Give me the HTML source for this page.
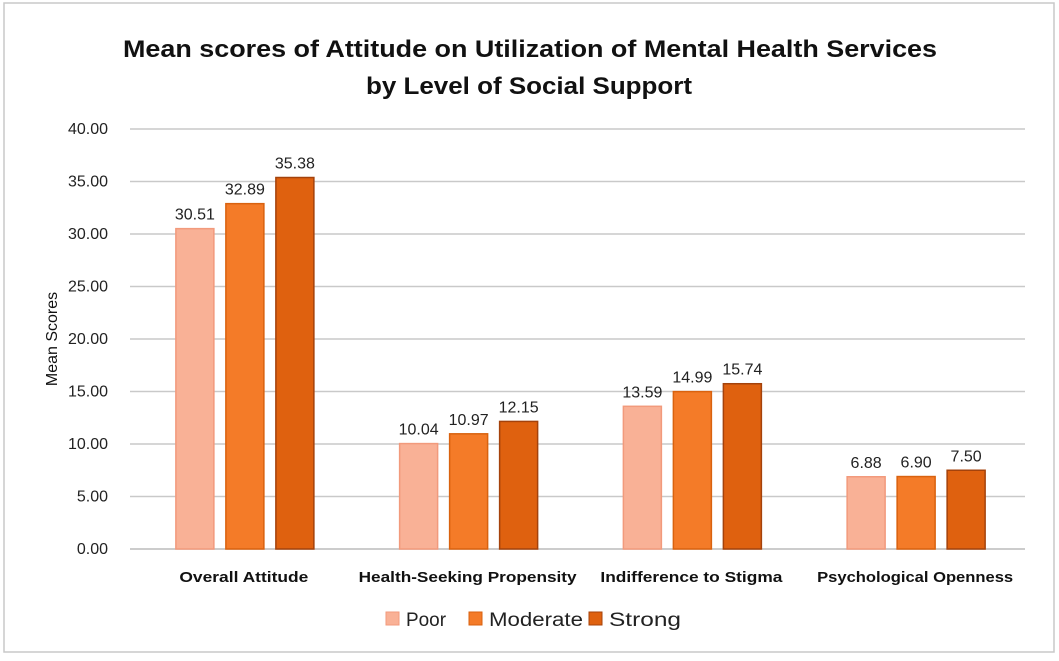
<!DOCTYPE html>
<html><head><meta charset="utf-8"><style>
body{margin:0;background:#fff;font-family:"Liberation Sans",sans-serif}
</style></head><body>
<svg width="1059" height="656" xmlns="http://www.w3.org/2000/svg">
<rect x="4" y="3" width="1050" height="649" fill="#fff" stroke="#c8c8c8" stroke-width="1.5"/>
<text x="530" y="57" text-anchor="middle" font-size="24" font-weight="bold" fill="#111" textLength="814" lengthAdjust="spacingAndGlyphs">Mean scores of Attitude on Utilization of Mental Health Services</text>
<text x="529" y="94" text-anchor="middle" font-size="24" font-weight="bold" fill="#111" textLength="326" lengthAdjust="spacingAndGlyphs">by Level of Social Support</text>
<g id="grid"></g><g id="bars"></g><g id="labels"></g>
<text transform="translate(57,339) rotate(-90)" text-anchor="middle" font-size="16" fill="#111">Mean Scores</text>
<g id="legend"></g>
</svg>
<script>
const categories=["Overall Attitude","Health-Seeking Propensity","Indifference to Stigma","Psychological Openness"];
const seriesNames=["Poor","Moderate","Strong"];
const poor=[30.51,10.04,13.59,6.88];
const moderate=[32.89,10.97,14.99,6.90];
const strong=[35.38,12.15,15.74,7.50];
const yTicks=[0,5,10,15,20,25,30,35,40];
const NS="http://www.w3.org/2000/svg";
const x0=133,x1=1028,y0=549,yTop=129,yMax=40;
const Y=v=>y0-(v/yMax)*(y0-yTop);
const gw=(x1-x0)/categories.length;
const fills=["#f9b196","#f47b28","#df610f"],strokes=["#f29a7c","#d9620f","#a4420b"];
const catLen=[129,218,182,196];
function el(t,a,p){const e=document.createElementNS(NS,t);for(const k in a)e.setAttribute(k,a[k]);document.getElementById(p).appendChild(e);return e;}
yTicks.forEach(t=>{
 const l=el("line",{x1:130,x2:1025,y1:Y(t),y2:Y(t),stroke:t===0?"#bbb":"#c9c9c9","stroke-width":1.5},"grid");
 
 
 const tx=el("text",{x:108,y:Y(t)+5,"text-anchor":"end","font-size":16,fill:"#222"},"grid");
 tx.textContent=t.toFixed(2);
 
 
});
const series=[poor,moderate,strong];
categories.forEach((c,i)=>{
 const cx=x0+gw*(i+0.5);
 series.forEach((s,j)=>{
  const bx=cx-69+j*50;
  const r=el("rect",{x:bx,y:Y(s[i]),width:38,height:y0-Y(s[i]),fill:fills[j],stroke:strokes[j],"stroke-width":1.5},"bars");
  
  
  const t=el("text",{x:bx+19,y:Y(s[i])-9,"text-anchor":"middle","font-size":16,fill:"#222"},"labels");
  t.textContent=s[i].toFixed(2);
  
  
 });
 const ct=el("text",{x:cx-1,y:582,"text-anchor":"middle","font-size":15,"font-weight":"bold",fill:"#111",textLength:catLen[i],lengthAdjust:"spacingAndGlyphs"},"labels");
 ct.textContent=c;
 
 
});
const lx=[386,469,589];
const lLen=[40,94,72];
seriesNames.forEach((n,j)=>{
 const r=el("rect",{x:lx[j],y:612,width:13,height:13,fill:fills[j],stroke:strokes[j]},"legend");
 
 
 const t=el("text",{x:lx[j]+20,y:626,"font-size":19,fill:"#222",textLength:lLen[j],lengthAdjust:"spacingAndGlyphs"},"legend");
 t.textContent=n;
 
 
});
</script>
</body></html>
